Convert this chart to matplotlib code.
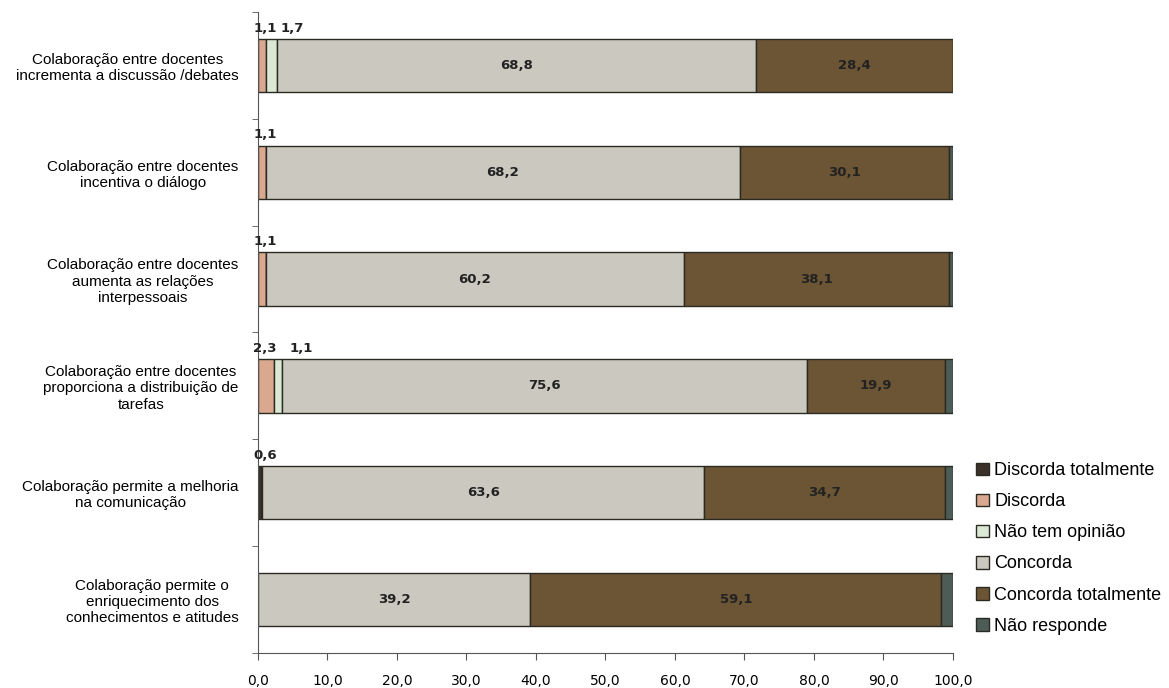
import numpy as np
import matplotlib.pyplot as plt

# Categories, top to bottom
categorias = [
    "Colaboração entre docentes\nincrementa a discussão /debates",
    "Colaboração entre docentes\nincentiva o diálogo",
    "Colaboração entre docentes\naumenta as relações\ninterpessoais",
    "Colaboração entre docentes\nproporciona a distribuição de\ntarefas",
    "Colaboração permite a melhoria\nna comunicação",
    "Colaboração permite o\nenriquecimento dos\nconhecimentos e atitudes",
]

series = ["Discorda totalmente", "Discorda", "Não tem opinião",
          "Concorda", "Concorda totalmente", "Não responde"]

# Percentages per category (same order as categorias)
discorda_totalmente = [0.0, 0.0, 0.0, 0.0, 0.6, 0.0]
discorda = [1.1, 1.1, 1.1, 2.3, 0.0, 0.0]
sem_opiniao = [1.7, 0.0, 0.0, 1.1, 0.0, 0.0]
concorda = [68.8, 68.2, 60.2, 75.6, 63.6, 39.2]
concorda_totalmente = [28.4, 30.1, 38.1, 19.9, 34.7, 59.1]
nao_responde = [0.0, 0.6, 0.6, 1.1, 1.1, 1.7]

x_ticks = np.arange(0, 101, 10)

cores = ["#3b3129", "#d9a88f", "#dbe8d3", "#cbc8bf", "#6c5534", "#4d5c57"]

valores = [discorda_totalmente, discorda, sem_opiniao,
           concorda, concorda_totalmente, nao_responde]

def fmt(v):
    return f"{float(v):.1f}".replace(".", ",")

fig = plt.figure(figsize=(11.69, 6.88), dpi=100)
ax = fig.add_axes([0.2207, 0.0509, 0.5945, 0.9317])

y = np.arange(len(categorias))
altura = 0.5
left = np.zeros(len(categorias))
handles = []
small_count = np.zeros(len(categorias), dtype=int)

for s, (nome, vals, cor) in enumerate(zip(series, valores, cores)):
    vals = np.array(vals)
    bars = ax.barh(y, vals, left=left, height=altura, color=cor,
                   edgecolor="#2a2a22", linewidth=1.0, label=nome)
    handles.append(bars)
    for i, v in enumerate(vals):
        if v <= 0:
            continue
        if nome in ("Concorda", "Concorda totalmente"):
            ax.text(left[i] + v / 2, y[i], fmt(v), ha="center", va="center",
                    fontsize=9.5, fontweight="bold", color="#222222")
        elif nome != "Não responde":
            off = -3.5 if small_count[i] == 0 else 11
            ax.annotate(fmt(v), xy=(left[i], y[i] - altura / 2),
                        xytext=(off, 3), textcoords="offset points",
                        ha="left", va="bottom", fontsize=9.5,
                        fontweight="bold", color="#222222")
            small_count[i] += 1
    left = left + vals

ax.set_xlim(0, 100)
ax.set_ylim(len(categorias) - 0.5, -0.5)
ax.set_xticks(x_ticks)
ax.set_xticklabels([fmt(t) for t in x_ticks], fontsize=10,
                   fontfamily="DejaVu Sans")
ax.tick_params(axis="x", direction="out", length=5, pad=10, color="#555555")

ax.set_yticks(y)
ax.set_yticklabels(categorias, fontsize=11, fontfamily="Liberation Sans",
                   multialignment="center")
ax.tick_params(axis="y", which="major", length=0, pad=14)
ax.set_yticks(np.arange(-0.5, len(categorias), 1), minor=True)
ax.tick_params(axis="y", which="minor", length=4, color="#555555")

for sp in ["top", "right"]:
    ax.spines[sp].set_visible(False)
ax.spines["left"].set_color("#555555")
ax.spines["bottom"].set_color("#555555")

fig.legend(handles, series, loc="upper left",
           bbox_to_anchor=(960 / 1169, 1 - 446 / 688), frameon=False,
           handlelength=0.7, handleheight=0.7,
           handletextpad=0.3, labelspacing=0.78,
           prop={"family": "Liberation Sans", "size": 13})

fig.savefig("out.png", dpi=100)
